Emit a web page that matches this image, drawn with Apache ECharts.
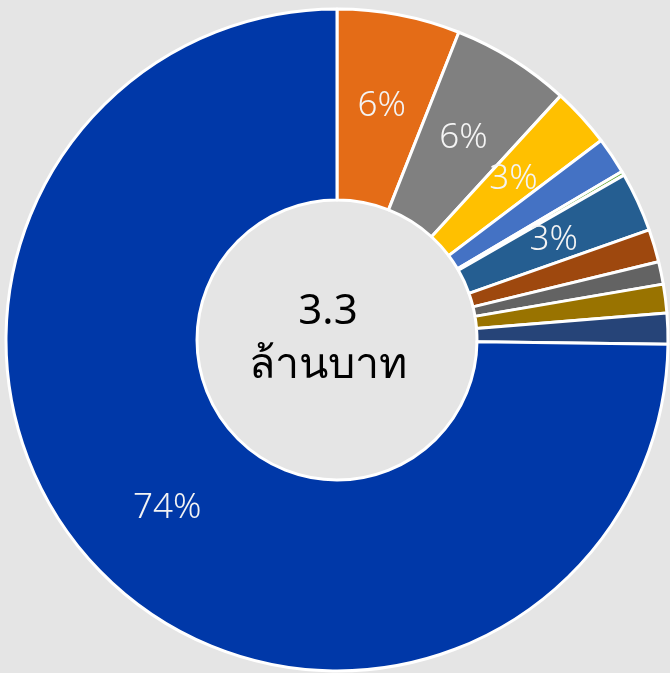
<!DOCTYPE html>
<html>
<head>
<meta charset="utf-8">
<script src="https://cdn.jsdelivr.net/npm/echarts@6/dist/echarts.min.js"></script>
<style>
  html, body { margin: 0; padding: 0; background: #e5e5e5; }
  #pic { width: 670px; height: 673px; }
</style>
</head>
<body>
<div id="pic"></div>
<script>
// share of total (percent), clockwise from 12 o'clock
var shares = [6.0, 5.8, 2.9, 1.8, 0.2, 2.9, 1.6, 1.1, 1.4, 1.5, 74.8];
var labels = ['6%', '6%', '3%', '', '', '3%', '', '', '', '', '74%'];
var colors = ['#E46C17', '#808080', '#FFC000', '#4472C4', '#70AD47', '#255E91',
              '#9E480E', '#636363', '#997300', '#264478', '#0038A8'];
var centerLines = ['3.3', 'ล้านบาท'];

var values = []
for (var i = 0; i < shares.length; i++) {
    values.push({
        value: shares[i],
        name: 'p' + i,
        label: { show: labels[i] != '' }
    })
}

var myChart = echarts.init(document.getElementById('pic'));
var option = {
    backgroundColor: '#e5e5e5',
    color: colors,
    animation: false,
    series: [
        {
            type: 'pie',
            center: [337, 340],
            radius: [140, 331],
            startAngle: 90,
            clockwise: true,
            avoidLabelOverlap: false,
            itemStyle: {
                borderColor: '#ffffff',
                borderWidth: 3
            },
            label: {
                position: 'inner',
                formatter: function (p) { return labels[p.dataIndex] },
                color: '#f4f4f4',
                textBorderWidth: 0,
                fontSize: 35,
                fontFamily: '"Noto Sans", sans-serif',
                fontWeight: 300
            },
            labelLine: { show: false },
            emphasis: { disabled: true },
            data: values
        }
    ],
    graphic: [
        {
            type: 'text',
            x: 328,
            y: 312,
            style: {
                text: centerLines[0],
                fill: '#000',
                font: '42px "Noto Sans", sans-serif',
                align: 'center',
                verticalAlign: 'middle'
            }
        },
        {
            type: 'text',
            x: 328,
            y: 366,
            style: {
                text: centerLines[1],
                fill: '#000',
                font: '43px "Noto Sans", sans-serif',
                align: 'center',
                verticalAlign: 'middle'
            }
        }
    ]
}
myChart.setOption(option);
</script>
</body>
</html>
